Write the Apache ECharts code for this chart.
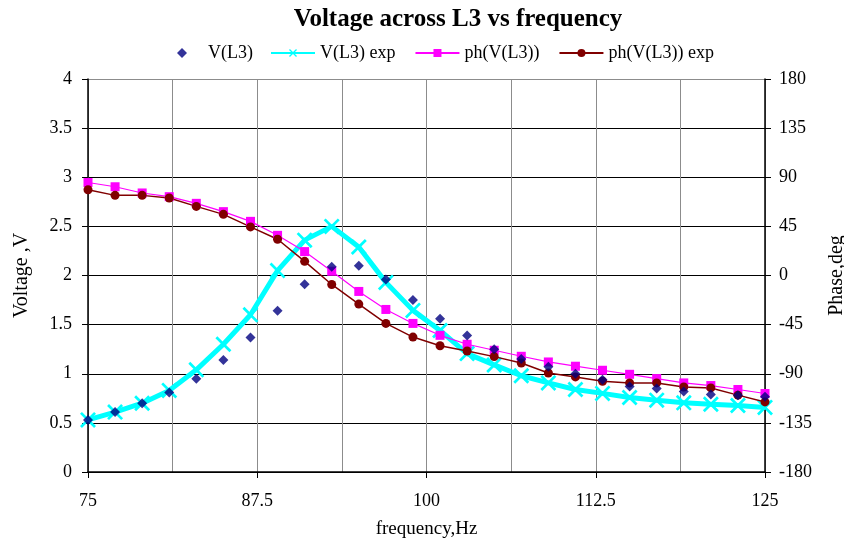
<!DOCTYPE html>
<html>
<head>
<meta charset="utf-8">
<script src="https://cdn.jsdelivr.net/npm/echarts@6/dist/echarts.min.js"></script>
<style>html,body{margin:0;padding:0;background:#fff;overflow:hidden}#c{width:844px;height:543px}</style>
</head>
<body>
<div id="c"></div>
<script>
const freq = [75,77,79,81,83,85,87,89,91,93,95,97,99,101,103,105,107,109,111,113,115,117,119,121,123,125];
const vL3 = [0.53,0.61,0.70,0.81,0.95,1.14,1.37,1.64,1.91,2.09,2.10,1.96,1.75,1.56,1.39,1.25,1.15,1.07,1.00,0.94,0.87,0.85,0.82,0.79,0.78,0.765];
const vL3exp = [0.53,0.61,0.70,0.83,1.04,1.30,1.60,2.05,2.36,2.50,2.29,1.93,1.645,1.44,1.205,1.09,0.98,0.907,0.84,0.80,0.758,0.731,0.704,0.69,0.677,0.657];
const phL3 = [85.2,81.3,75.6,72.2,66.1,58.5,49.6,36.8,21.9,3.9,-14.6,-31.1,-43.9,-54.8,-63.0,-68.5,-74.0,-79.2,-83.1,-86.8,-90.5,-94.4,-98.4,-100.8,-104.4,-108.1];
const phL3exp = [78.6,73.4,73.4,71.0,63.3,56.0,44.5,33.2,13.0,-8.2,-26.2,-43.9,-56.4,-64.3,-69.2,-74.3,-80.2,-89.3,-92.9,-96.9,-98.4,-98.4,-102.1,-103.0,-109.6,-115.8];
const xTicks = [75,87.5,100,112.5,125];

const pairs = (ys) => freq.map((f,i)=>[f, ys[i]]);
const FONT = 'Liberation Serif';
const crossPath = 'path://M0,1.2L1.2,0L10,8.8L8.8,10Z M8.8,0L10,1.2L1.2,10L0,8.8Z';
const hGridColors = ['#000','#000','#000','#000','#000','#000','#000','#000','#8c8c8c'];

const chart = echarts.init(document.getElementById('c'), null, {renderer:'canvas'});
chart.setOption({
  animation: false,
  backgroundColor: '#fff',
  textStyle: {fontFamily: FONT, color:'#000'},
  title: {
    text: 'Voltage across L3 vs frequency',
    left: 453, top: 2, textAlign: 'center',
    textStyle: {fontFamily: FONT, fontWeight: 'bold', fontSize: 25, color: '#000'}
  },
  legend: [
    {
      left: 177, top: 44, padding: 0,
      itemWidth: 10, itemHeight: 10,
      textStyle: {fontFamily: FONT, fontSize: 18, color: '#000', padding: [0,0,0,16]},
      data: [{name: 'V(L3)', icon: 'diamond'}]
    },
    {
      left: 270, top: 44, padding: 0,
      itemWidth: 44, itemHeight: 10, itemGap: 19,
      textStyle: {fontFamily: FONT, fontSize: 18, color: '#000'},
      data: ['V(L3) exp','ph(V(L3))','ph(V(L3)) exp']
    }
  ],
  grid: {left: 88, right: 79, top: 79, bottom: 71, containLabel: false, outerBoundsMode: 'none'},
  xAxis: {
    type: 'value', min: 75, max: 125, interval: 12.5,
    name: 'frequency,Hz', nameLocation: 'middle', nameGap: 48,
    nameTextStyle: {fontFamily: FONT, fontSize: 19, color: '#000'},
    axisLine: {show: true, lineStyle: {color: '#000', width: 1.5}},
    axisTick: {show: true, length: 6, lineStyle: {color: '#000'}},
    axisLabel: {fontFamily: FONT, fontSize: 18, color: '#000', margin: 20,
      formatter: (v) => xTicks.indexOf(v) >= 0 ? String(v) : ''},
    splitLine: {show: true, lineStyle: {color: '#8c8c8c', width: 1}},
    minorTick: {show: false, splitNumber: 2},
    minorSplitLine: {show: true, lineStyle: {color: '#8c8c8c', width: 1}}
  },
  yAxis: [
    {
      type: 'value', min: 0, max: 4, interval: 0.5, position: 'left',
      name: 'Voltage ,V', nameLocation: 'middle', nameRotate: 90, nameGap: 56,
      nameTextStyle: {fontFamily: FONT, fontSize: 20, color: '#000'},
      axisLine: {show: true, lineStyle: {color: '#000', width: 1.5}},
      axisTick: {show: true, length: 6, lineStyle: {color: '#000'}},
      axisLabel: {fontFamily: FONT, fontSize: 18, color: '#000', margin: 16},
      splitLine: {show: true, lineStyle: {color: hGridColors, width: 1}}
    },
    {
      type: 'value', min: -180, max: 180, interval: 45, position: 'right',
      name: 'Phase,deg', nameLocation: 'middle', nameRotate: 90, nameGap: 62,
      nameTextStyle: {fontFamily: FONT, fontSize: 20, color: '#000'},
      axisLine: {show: true, lineStyle: {color: '#000', width: 1.5}},
      axisTick: {show: true, length: 6, lineStyle: {color: '#000'}},
      axisLabel: {fontFamily: FONT, fontSize: 18, color: '#000', margin: 14},
      splitLine: {show: false}
    }
  ],
  series: [
    {
      name: 'V(L3)', type: 'scatter', yAxisIndex: 0, z: 5,
      symbol: 'diamond', symbolSize: 10,
      itemStyle: {color: '#000080'},
      data: pairs(vL3)
    },
    {
      name: 'V(L3) exp', type: 'line', yAxisIndex: 0, z: 3,
      symbol: crossPath, symbolSize: 16, showSymbol: true,
      lineStyle: {color: '#00ffff', width: 5},
      itemStyle: {color: '#00ffff'},
      data: pairs(vL3exp)
    },
    {
      name: 'ph(V(L3))', type: 'line', yAxisIndex: 1, z: 4,
      symbol: 'rect', symbolSize: 9,
      lineStyle: {color: '#ff00ff', width: 1.2},
      itemStyle: {color: '#ff00ff'},
      data: pairs(phL3)
    },
    {
      name: 'ph(V(L3)) exp', type: 'line', yAxisIndex: 1, z: 4,
      symbol: 'circle', symbolSize: 9,
      lineStyle: {color: '#800000', width: 1.5},
      itemStyle: {color: '#800000'},
      data: pairs(phL3exp)
    }
  ]
});
</script>
</body>
</html>
